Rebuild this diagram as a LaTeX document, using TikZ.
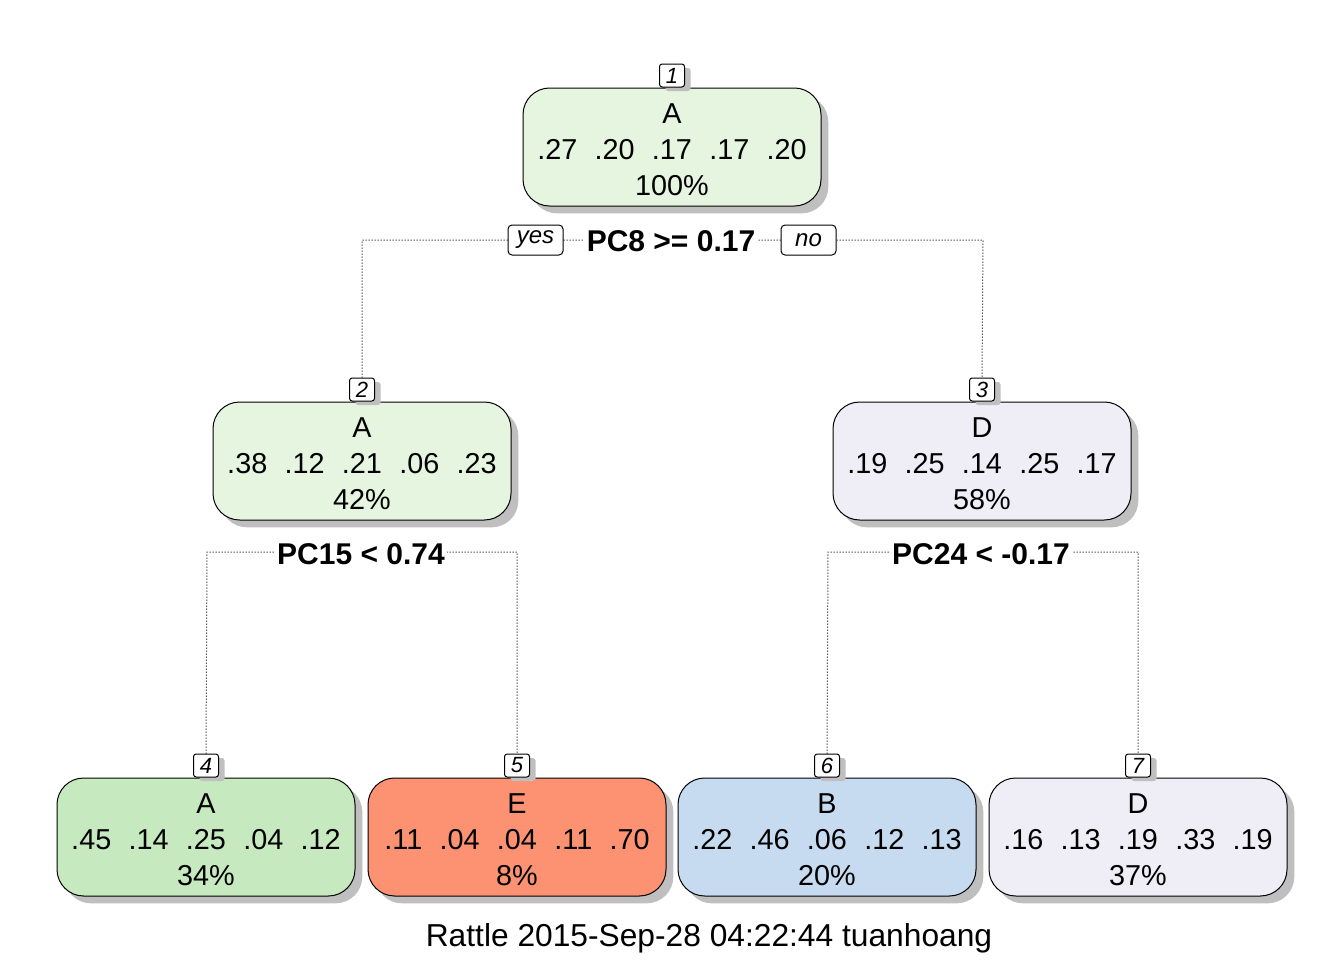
\documentclass[tikz,border=0pt]{standalone}
\usepackage{fontspec}
\setmainfont{Liberation Sans}
\usetikzlibrary{shadows}
\definecolor{gLight}{HTML}{E5F5E0}
\definecolor{gMid}{HTML}{C7E9C0}
\definecolor{salmon}{HTML}{FC9272}
\definecolor{bLight}{HTML}{C6DBEF}
\definecolor{lav}{HTML}{EFEDF5}
\newcommand{\gp}{\hspace{13pt}}
\newcommand{\topstrut}{\rule{0pt}{18.5pt}}
\begin{document}
\begin{tikzpicture}[x=0.75pt,y=-0.75pt,
  tbox/.style={draw=black, line width=0.75pt, rounded corners=20pt,
    minimum width=223.5pt, minimum height=88.5pt, align=center, inner sep=0pt,
    font=\fontsize{21.6}{27}\selectfont,
    drop shadow={shadow xshift=5.5pt, shadow yshift=-5.5pt, fill=black!25, opacity=1}},
  numbox/.style={draw=black, line width=0.75pt, fill=white, rounded corners=2pt,
    minimum width=18.75pt, minimum height=17.25pt, inner sep=0pt, anchor=south,
    font=\fontsize{16.5}{16.5}\selectfont\itshape,
    drop shadow={shadow xshift=4.5pt, shadow yshift=-3pt, fill=black!25, opacity=1}},
  ynbox/.style={draw=black, line width=0.75pt, fill=white, rounded corners=3pt,
    minimum width=41.25pt, minimum height=22.5pt, inner sep=0pt,
    font=\fontsize{18}{18}\selectfont\itshape},
  splitlab/.style={fill=white, inner xsep=2pt, inner ysep=3pt,
    font=\fontsize{22.5}{22.5}\selectfont\bfseries},
  conn/.style={line width=0.75pt, dash pattern=on 0.75pt off 1.5pt}
]
\useasboundingbox (0,0) rectangle (1344,960);

% connector corners
\coordinate (c1l) at (362,240);
\coordinate (c1r) at (983,240);
\coordinate (c2l) at (207,552);
\coordinate (c2r) at (517,552);
\coordinate (c3l) at (828,552);
\coordinate (c3r) at (1138,552);

% nodes
\node[tbox, fill=gLight] (n1) at (672,147) {\topstrut A\\.27\gp.20\gp.17\gp.17\gp.20\\100\%};
\node[tbox, fill=gLight] (n2) at (362,461) {\topstrut A\\.38\gp.12\gp.21\gp.06\gp.23\\42\%};
\node[tbox, fill=lav] (n3) at (982,461) {\topstrut D\\.19\gp.25\gp.14\gp.25\gp.17\\58\%};
\node[tbox, fill=gMid] (n4) at (206,837) {\topstrut A\\.45\gp.14\gp.25\gp.04\gp.12\\34\%};
\node[tbox, fill=salmon] (n5) at (517,837) {\topstrut E\\.11\gp.04\gp.04\gp.11\gp.70\\8\%};
\node[tbox, fill=bLight] (n6) at (827,837) {\topstrut B\\.22\gp.46\gp.06\gp.12\gp.13\\20\%};
\node[tbox, fill=lav] (n7) at (1138,837) {\topstrut D\\.16\gp.13\gp.19\gp.33\gp.19\\37\%};

\node[numbox] (k1) at (n1.north) {1};
\node[numbox] (k2) at (n2.north) {2};
\node[numbox] (k3) at (n3.north) {3};
\node[numbox] (k4) at (n4.north) {4};
\node[numbox] (k5) at (n5.north) {5};
\node[numbox] (k6) at (n6.north) {6};
\node[numbox] (k7) at (n7.north) {7};

\draw[conn] (k2.north) -- (c1l) -- (c1r) -- (k3.north);
\draw[conn] (k4.north) -- (c2l) -- (c2r) -- (k5.north);
\draw[conn] (k6.north) -- (c3l) -- (c3r) -- (k7.north);

\node[splitlab] (s1) at (671,241) {PC8 >= 0.17};
\node[splitlab] (s2) at (361,554) {PC15 < 0.74};
\node[splitlab] (s3) at (981,554) {PC24 < -0.17};

\node[ynbox] (yes) at (535.5,240) {yes};
\node[ynbox] (no) at (808.5,240) {no};

\node[font=\fontsize{23.8}{23.8}\selectfont] (foot) at (709,938) {Rattle 2015-Sep-28 04:22:44 tuanhoang};
\end{tikzpicture}
\end{document}
